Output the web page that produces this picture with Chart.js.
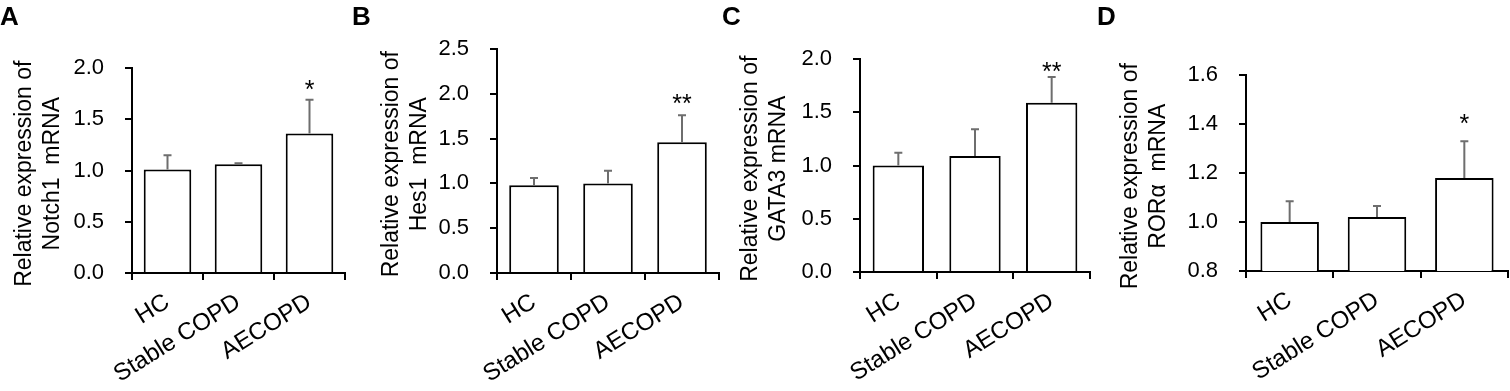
<!DOCTYPE html>
<html>
<head>
<meta charset="utf-8">
<script src="https://cdn.jsdelivr.net/npm/chart.js@4.4.1/dist/chart.umd.min.js"></script>
<style>
  html, body { margin: 0; padding: 0; background: #fff; }
  body { width: 1510px; height: 391px; position: relative; overflow: hidden; font-family: 'Liberation Sans', Arial, sans-serif; }
  .panel { position: absolute; top: 0; height: 391px; }
  .tag { position: absolute; top: 1px; font: bold 26px 'Liberation Sans', Arial, sans-serif; color: #000; z-index: 2; }
</style>
</head>
<body>
<div class="tag" style="left:0px">A</div>
<div class="tag" style="left:352px">B</div>
<div class="tag" style="left:722px">C</div>
<div class="tag" style="left:1097px">D</div>
<div class="panel" style="left:0px;width:362px"><canvas id="chartA"></canvas></div>
<div class="panel" style="left:365px;width:360px"><canvas id="chartB"></canvas></div>
<div class="panel" style="left:725px;width:375px"><canvas id="chartC"></canvas></div>
<div class="panel" style="left:1100px;width:410px"><canvas id="chartD"></canvas></div>
<script>
'use strict';

const categories = ['HC', 'Stable COPD', 'AECOPD'];

const notch1 = [1.01, 1.06, 1.36];
const notch1Err = [0.14, 0.01, 0.33];
const notch1Ticks = [0, 0.5, 1.0, 1.5, 2.0];
const notch1Sig = ['', '', '*'];
const notch1SigAt = [null, null, 1.85];

const hes1 = [0.98, 1.00, 1.46];
const hes1Err = [0.08, 0.14, 0.30];
const hes1Ticks = [0, 0.5, 1.0, 1.5, 2.0, 2.5];
const hes1Sig = ['', '', '**'];
const hes1SigAt = [null, null, 1.96];

const gata3 = [1.00, 1.09, 1.59];
const gata3Err = [0.12, 0.25, 0.24];
const gata3Ticks = [0, 0.5, 1.0, 1.5, 2.0];
const gata3Sig = ['', '', '**'];
const gata3SigAt = [null, null, 1.94];

const rora = [1.00, 1.02, 1.18];
const roraErr = [0.085, 0.045, 0.15];
const roraTicks = [0.8, 1.0, 1.2, 1.4, 1.6];
const roraSig = ['', '', '*'];
const roraSigAt = [null, null, 1.43];

const FONT = "'Liberation Sans', Arial, sans-serif";

// error bars (upward only) and significance stars
const extrasPlugin = {
  id: 'extras',
  afterDatasetsDraw(chart, args, opts) {
    const ctx = chart.ctx;
    const y = chart.scales.y;
    const meta = chart.getDatasetMeta(0);
    const vals = chart.data.datasets[0].data;
    ctx.save();
    ctx.strokeStyle = '#6e6e6e';
    ctx.lineWidth = 2;
    meta.data.forEach((bar, i) => {
      const y0 = y.getPixelForValue(vals[i]);
      const y1 = y.getPixelForValue(vals[i] + opts.err[i]);
      ctx.beginPath();
      ctx.moveTo(bar.x, y0);
      ctx.lineTo(bar.x, y1);
      ctx.moveTo(bar.x - 4, y1);
      ctx.lineTo(bar.x + 4, y1);
      ctx.stroke();
      if (opts.sig[i]) {
        ctx.fillStyle = '#000';
        ctx.font = '25px ' + FONT;
        ctx.textAlign = 'center';
        ctx.textBaseline = 'alphabetic';
        ctx.fillText(opts.sig[i], bar.x, y.getPixelForValue(opts.sigAt[i]) + 15);
      }
    });
    ctx.restore();
  }
};

function makeChart(id, p) {
  const ctx = document.getElementById(id).getContext('2d');
  return new Chart(ctx, {
    type: 'bar',
    data: {
      labels: categories,
      datasets: [{
        data: p.values,
        backgroundColor: '#ffffff',
        borderColor: '#000000',
        borderWidth: 2,
        barPercentage: 0.67,
        categoryPercentage: 1.0,
      }],
    },
    options: {
      responsive: true,
      maintainAspectRatio: false,
      animation: false,
      layout: { padding: { left: 0, top: p.top, right: p.padRight, bottom: 0 } },
      plugins: {
        legend: { display: false },
        tooltip: { enabled: false },
        extras: { err: p.err, sig: p.sig, sigAt: p.sigAt },
      },
      scales: {
        x: {
          grid: { display: true, drawOnChartArea: false, color: '#000', lineWidth: 2, tickLength: 7, offset: true },
          border: { color: '#000', width: 2 },
          ticks: {
            color: '#000',
            font: { family: FONT, size: 24 },
            minRotation: 32,
            maxRotation: 32,
            autoSkip: false,
            padding: 8,
          },
          afterFit: s => { s.height = 391 - p.bottom; },
        },
        y: {
          min: p.ticks[0],
          max: p.ticks[p.ticks.length - 1],
          afterBuildTicks: s => { s.ticks = p.ticks.map(v => ({ value: v })); },
          grid: { display: true, drawOnChartArea: false, color: '#000', lineWidth: 2, tickLength: 7 },
          border: { color: '#000', width: 2 },
          ticks: {
            color: '#000',
            font: { family: FONT, size: 22 },
            padding: 21,
            callback: v => Number(v).toFixed(1),
          },
          title: {
            display: true,
            // trailing space nudges the rotated title slightly down, as in the figure
            text: p.title.map(t => t + ' '),
            color: '#000',
            font: { family: FONT, size: 23, lineHeight: 1.22 },
            padding: { top: p.titlePad, bottom: 0 },
          },
          afterFit: s => { s.width = p.axisWidth; },
        },
      },
    },
    plugins: [extrasPlugin],
  });
}

document.addEventListener('DOMContentLoaded', () => {
  makeChart('chartA', {
    values: notch1, err: notch1Err, ticks: notch1Ticks, sig: notch1Sig, sigAt: notch1SigAt,
    title: ['Relative expression of', 'Notch1  mRNA'],
    top: 68, bottom: 273, padRight: 17, axisWidth: 132, titlePad: 11,
  });
  makeChart('chartB', {
    values: hes1, err: hes1Err, ticks: hes1Ticks, sig: hes1Sig, sigAt: hes1SigAt,
    title: ['Relative expression of', 'Hes1  mRNA'],
    top: 49, bottom: 273, padRight: 6, axisWidth: 132, titlePad: 13,
  });
  makeChart('chartC', {
    values: gata3, err: gata3Err, ticks: gata3Ticks, sig: gata3Sig, sigAt: gata3SigAt,
    title: ['Relative expression of', 'GATA3 mRNA'],
    top: 59, bottom: 272, padRight: 10, axisWidth: 135, titlePad: 12,
  });
  makeChart('chartD', {
    values: rora, err: roraErr, ticks: roraTicks, sig: roraSig, sigAt: roraSigAt,
    title: ['Relative expression of', 'RORα  mRNA'],
    top: 75, bottom: 271, padRight: 2, axisWidth: 146, titlePad: 17,
  });
});
</script>
</body>
</html>
